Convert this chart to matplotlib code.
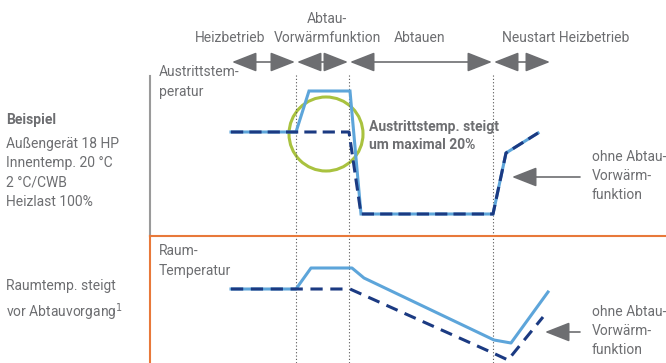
import matplotlib.pyplot as plt
from matplotlib.patches import Circle, FancyArrowPatch

plt.rcParams['font.family'] = ['Roboto', 'DejaVu Sans']

# time axis in picture units (left -> right)
phase_bounds = [231, 296, 349, 493, 551]
phase_names = ["Heizbetrieb", "Abtau-\nVorwärmfunktion", "Abtauen", "Neustart Heizbetrieb"]
phase_label_x = [230, 327, 420, 566]

# Austrittstemperatur (upper panel), y grows downward
out_with_t = [231, 296, 309, 350, 361, 493, 506, 538]
out_with_v = [132, 132, 91, 91, 214, 214, 153, 133]
out_without_t = [231, 349, 361, 493, 506, 538]
out_without_v = [132, 132, 214, 214, 153, 133]

# Raumtemperatur (lower panel)
room_with_t = [231, 296, 311, 352, 364, 494, 511, 548]
room_with_v = [289, 289, 268, 268, 278, 340, 343, 292]
room_without_t = [231, 350, 493, 508, 543]
room_without_v = [289, 289, 353, 360, 317]

LIGHT = '#5da5da'
NAVY = '#1b3a82'
GREY = '#6d6e71'
ORANGE = '#e8793a'
GREEN = '#a9c23f'

fig = plt.figure(figsize=(6.66, 3.63), dpi=100)
ax = fig.add_axes([0, 0, 1, 1])
ax.set_xlim(0, 666)
ax.set_ylim(363, 0)
ax.axis('off')

fs = 10

# phase arrows and labels
for i in range(len(phase_names)):
    a = FancyArrowPatch((phase_bounds[i] + 1, 62), (phase_bounds[i + 1] - 1, 62),
                        arrowstyle='<|-|>,head_length=1.4,head_width=0.55',
                        mutation_scale=11, color=GREY, lw=1.2, shrinkA=0, shrinkB=0)
    ax.add_patch(a)
    ax.text(phase_label_x[i], 45, phase_names[i], ha='center', va='bottom',
            fontsize=fs, color=GREY, linespacing=1.45)

# dotted phase separators
for xb in phase_bounds[1:4]:
    ax.plot([xb, xb], [75, 363], ls=(0, (1, 2)), color='#555555', lw=0.8)

# panel frames
ax.plot([150, 150], [76, 236], color='#9a9a9a', lw=1.5)
ax.plot([150, 666], [236, 236], color=ORANGE, lw=1.5)
ax.plot([150, 150], [236, 363], color=ORANGE, lw=1.5)

# curves
ax.plot(out_with_t, out_with_v, color=LIGHT, lw=2.2, solid_joinstyle='miter')
ax.plot(out_without_t, out_without_v, color=NAVY, lw=2.2, ls=(0, (4, 2)))
ax.plot(room_with_t, room_with_v, color=LIGHT, lw=2.2)
ax.plot(room_without_t, room_without_v, color=NAVY, lw=2.2, ls=(0, (4, 2.5)))

ax.add_patch(Circle((326, 134), 37, fill=False, ec=GREEN, lw=2.2))

# panel labels
ax.text(159, 82, "Austrittstem-\nperatur", ha='left', va='center', fontsize=fs,
        color=GREY, linespacing=1.5)
ax.text(159, 261, "Raum-\nTemperatur", ha='left', va='center', fontsize=fs,
        color=GREY, linespacing=1.5)

ax.text(369, 136, "Austrittstemp. steigt\num maximal 20%", ha='left', va='center',
        fontsize=fs, color=GREY, fontweight='bold', linespacing=1.4)

# left info block
ax.text(6, 120, "Beispiel", ha='left', va='center', fontsize=fs, color=GREY,
        fontweight='bold')
ax.text(6, 173, "Außengerät 18 HP\nInnentemp. 20 °C\n2 °C/CWB\nHeizlast 100%",
        ha='left', va='center', fontsize=fs, color=GREY, linespacing=1.5)
ax.text(6, 301, "Raumtemp. steigt\nvor Abtauvorgang$^{1}$", ha='left', va='center',
        fontsize=fs, color=GREY, linespacing=1.5)

# "ohne" annotations
for yc, xt in [(177, 512), (332, 545)]:
    a = FancyArrowPatch((580, yc), (xt, yc),
                        arrowstyle='-|>,head_length=1.4,head_width=0.55',
                        mutation_scale=11, color=GREY, lw=1.2, shrinkA=0, shrinkB=0)
    ax.add_patch(a)
    ax.text(592, yc - 1, "ohne Abtau-\nVorwärm-\nfunktion", ha='left', va='center',
            fontsize=fs, color=GREY, linespacing=1.42)

fig.savefig('out.png', dpi=100)
